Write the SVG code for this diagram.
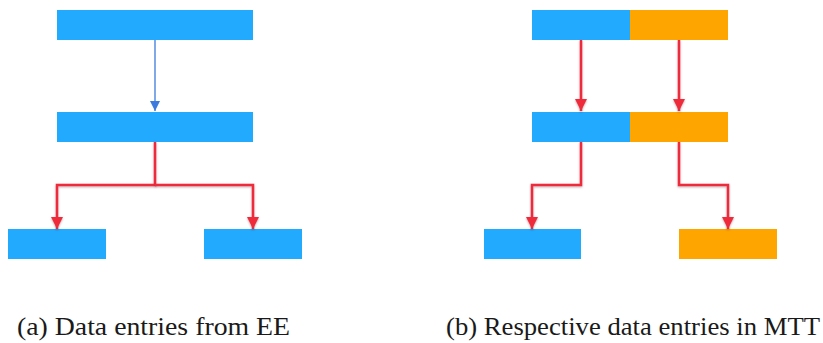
<svg xmlns="http://www.w3.org/2000/svg" width="823" height="343" viewBox="0 0 823 343">
<style>
.b{fill:#22AAFF}
.o{fill:#FFA500}
.r{fill:none;stroke:#EE2B3A;stroke-width:2.5;marker-end:url(#ar);filter:url(#sh)}
.bl{fill:none;stroke:#3A7BDD;stroke-width:1.3;marker-end:url(#ab)}
.cap{font-family:"Liberation Serif","Times New Roman",serif;font-size:25px;fill:#1a1a1a}
</style>
<defs>
<marker id="ar" markerWidth="5" markerHeight="5" viewBox="0 0 10 10" refX="10" refY="5" orient="auto" markerUnits="strokeWidth"><path d="M0,0 L10,5 L0,10 z" fill="#EE2B3A"/></marker>
<marker id="ab" markerWidth="8" markerHeight="8" viewBox="0 0 10 10" refX="10" refY="5" orient="auto" markerUnits="strokeWidth"><path d="M0,0 L10,5 L0,10 z" fill="#3A7BDD"/></marker>
<filter id="sh" filterUnits="userSpaceOnUse" x="0" y="0" width="823" height="343"><feDropShadow dx="0" dy="1" stdDeviation="1" flood-color="#000" flood-opacity="0.3"/></filter>
</defs>
<g id="a-top"><rect class="b" x="57" y="10" width="196" height="30"/></g>
<g id="a-mid"><rect class="b" x="57" y="112" width="196" height="30"/></g>
<g id="a-bl"><rect class="b" x="8" y="229" width="98" height="30"/></g>
<g id="a-br"><rect class="b" x="204" y="229" width="98" height="30"/></g>
<g id="b-top"><rect class="b" x="532" y="10" width="98" height="30"/><rect class="o" x="630" y="10" width="98" height="30"/></g>
<g id="b-mid"><rect class="b" x="532" y="112" width="98" height="30"/><rect class="o" x="630" y="112" width="98" height="30"/></g>
<g id="b-bl"><rect class="b" x="484" y="229" width="97" height="30"/></g>
<g id="b-br"><rect class="o" x="679" y="229" width="98" height="30"/></g>
<g id="connectors">
<path class="bl" d="M155,40 V111"/>
<path class="r" d="M155,142 V185 H57 V229"/>
<path class="r" d="M155,185 H253 V229"/>
<path class="r" d="M581,40 V111"/>
<path class="r" d="M679,40 V111"/>
<path class="r" d="M581,142 V185 H532 V229"/>
<path class="r" d="M679,142 V185 H728 V229"/>
</g>
<text class="cap" x="17" y="335" textLength="273" lengthAdjust="spacingAndGlyphs">(a) Data entries from EE</text>
<text class="cap" x="446" y="335" textLength="374" lengthAdjust="spacingAndGlyphs">(b) Respective data entries in MTT</text>
</svg>
